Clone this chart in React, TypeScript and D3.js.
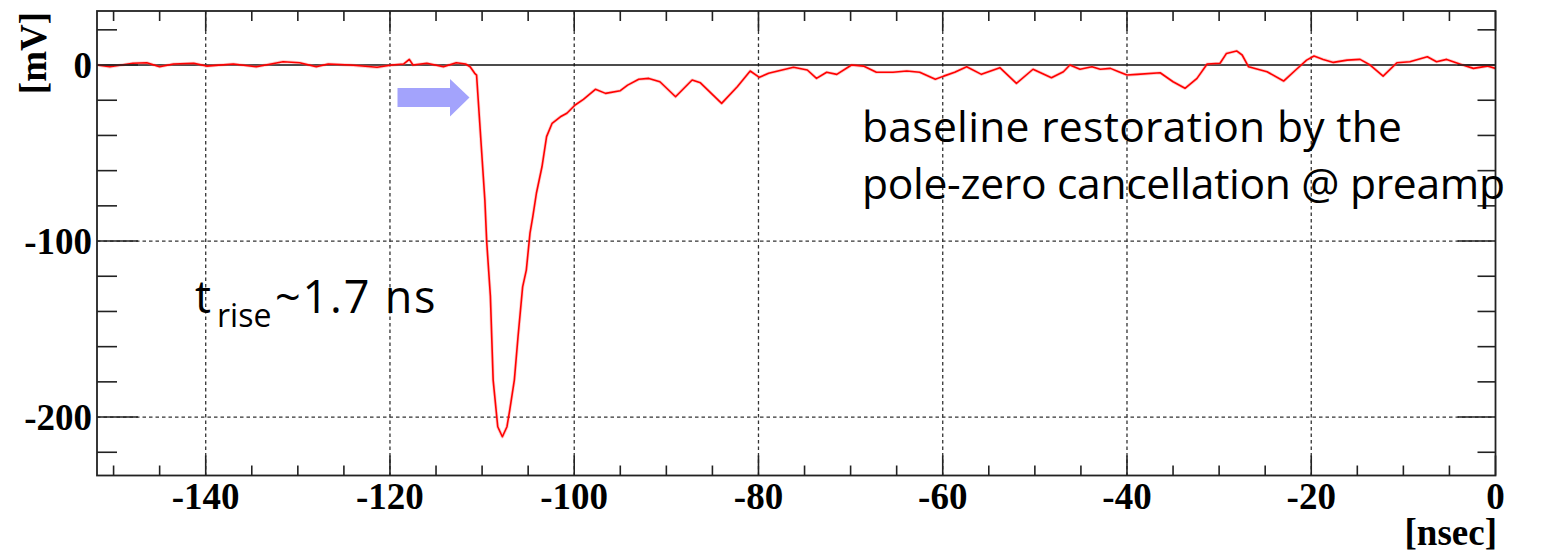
import React from "react";
import * as d3 from "d3";

// Preamp output waveform: time [ns] vs amplitude [mV]
const timeNs = [
  -151.8, -150.4, -147.9, -146.4, -145.0, -143.5, -141.3, -139.9, -137.0, -134.5,
  -131.6, -129.8, -128.0, -126.7, -124.3, -121.4, -119.8, -118.5, -117.9, -117.5,
  -116.0, -114.2, -112.8, -111.8, -111.3, -110.8, -110.6, -109.7, -109.5, -109.1,
  -108.8, -108.3, -107.8, -107.3, -107.0, -106.5, -106.1, -105.6, -105.2, -104.8,
  -104.5, -104.1, -103.5, -103.0, -102.4, -101.5, -100.8, -99.9, -99.0, -97.7,
  -96.6, -95.0, -94.2, -93.0, -91.9, -90.7, -89.0, -87.2, -86.3, -84.0,
  -82.3, -80.9, -79.9, -78.9, -76.2, -74.7, -73.7, -72.6, -71.5, -69.9,
  -68.6, -67.2, -65.4, -63.9, -62.5, -60.8, -59.9, -58.7, -57.4, -55.8,
  -53.8, -52.0, -50.2, -48.2, -46.9, -46.2, -45.1, -43.8, -42.9, -41.8,
  -40.9, -40.0, -38.9, -36.4, -35.0, -33.7, -32.4, -31.3, -29.9, -29.2,
  -28.1, -27.5, -26.8, -24.8, -23.0, -21.6, -20.5, -19.7, -18.7, -17.6,
  -16.1, -14.7, -13.6, -12.2, -10.7, -9.3, -7.4, -6.4, -5.3, -3.8,
  -2.4, -0.9, 0.0,
];

const signalMv = [
  0.0, -1.0, 1.0, 1.3, -1.0, 0.6, 1.0, -0.6, 0.6, -1.0,
  1.9, 1.3, -1.0, 0.6, 0.0, -1.3, 0.0, 0.6, 3.2, 0.0,
  1.0, -1.0, 1.3, 0.6, -1.0, -4.7, -5.7, -76.7, -100.4, -131.3,
  -179.0, -205.5, -211.2, -205.5, -196.0, -179.0, -154.4, -126.0, -116.5, -95.5,
  -86.2, -72.7, -57.8, -40.7, -33.1, -29.4, -27.4, -22.7, -19.5, -13.8,
  -16.1, -14.6, -11.4, -8.1, -7.6, -9.5, -18.0, -8.5, -10.1, -21.8,
  -12.3, -3.4, -7.0, -4.7, -1.3, -2.8, -7.6, -4.1, -5.3, 0.0,
  -0.6, -4.1, -4.1, -3.4, -4.1, -8.1, -6.3, -4.1, -1.0, -5.3,
  -1.5, -10.4, -2.4, -7.2, -3.8, 0.0, -2.4, -1.0, -2.4, -1.9,
  -3.8, -5.7, -5.3, -4.4, -9.5, -13.2, -7.6, 0.6, 1.0, 6.6,
  8.0, 5.7, -1.0, -3.8, -9.1, -2.4, 2.8, 5.1, 3.2, 1.5,
  2.8, 3.2, 0.0, -6.3, 1.3, 1.9, 4.7, 1.9, 3.2, 0.4,
  -1.9, -0.6, -1.9,
];

const xMajorTicks = [-140, -120, -100, -80, -60, -40, -20, 0];
const xTickLabels = ["-140", "-120", "-100", "-80", "-60", "-40", "-20", "0"];
const yMajorTicks = [0, -100, -200];
const yTickLabels = ["0", "-100", "-200"];

const xDomain: [number, number] = [-151.8, 0];
const yDomain: [number, number] = [-233.2, 30.7];

const annotationLines = ["baseline restoration by the", "pole-zero cancellation @ preamp"];
const annotationWidths = [540, 643];

const W = 1545;
const H = 555;
const frame = { left: 97, right: 1495.5, top: 11, bottom: 475.5 };

export default function App() {
  const x = d3.scaleLinear().domain(xDomain).range([frame.left, frame.right]);
  const y = d3.scaleLinear().domain(yDomain).range([frame.bottom, frame.top]);

  const xMinor = d3.range(-150, 0.001, 5).filter((v) => v % 20 !== 0);
  const yMinor = d3.range(20, -230, -20).filter((v) => v % 100 !== 0);

  const line = d3
    .line<number>()
    .x((_, i) => x(timeNs[i]))
    .y((d) => y(d))
    .curve(d3.curveLinear);

  const axisColor = "#222";
  const gridColor = "#333";
  const tickFont = { fontFamily: "'Liberation Serif', 'Times New Roman', serif", fontWeight: 700, fontSize: 37 };

  // Block arrow pointing at the pulse onset
  const arrow = "M397.5,88 L450,88 L450,79 L469.5,97.5 L450,116.5 L450,107 L397.5,107 Z";

  return (
    <svg width={W} height={H} style={{ position: "absolute", left: 0, top: 0, background: "#fff" }}>
      {/* dashed grid */}
      {xMajorTicks
        .filter((v) => v > xDomain[0] && v < 0)
        .map((v) => (
          <line key={`gx${v}`} x1={x(v)} x2={x(v)} y1={frame.top} y2={frame.bottom}
            stroke={gridColor} strokeWidth={1.3} strokeDasharray="3.5,3" />
        ))}
      {yMajorTicks
        .filter((v) => v !== 0)
        .map((v) => (
          <line key={`gy${v}`} x1={frame.left} x2={frame.right} y1={y(v)} y2={y(v)}
            stroke={gridColor} strokeWidth={1.3} strokeDasharray="3.5,3" />
        ))}

      {/* zero reference */}
      <line x1={frame.left} x2={frame.right} y1={y(0)} y2={y(0)} stroke="#111" strokeWidth={1.5} />

      {/* waveform */}
      <path d={line(signalMv) ?? ""} fill="none" stroke="#ff6b6b" strokeWidth={3.2} strokeOpacity={0.35} strokeLinejoin="round" />
      <path d={line(signalMv) ?? ""} fill="none" stroke="#ff0000" strokeWidth={1.6} strokeLinejoin="round" />

      {/* frame */}
      <rect x={frame.left} y={frame.top} width={frame.right - frame.left} height={frame.bottom - frame.top}
        fill="none" stroke={axisColor} strokeWidth={1.8} />

      {/* x ticks, bottom and top */}
      {xMajorTicks.map((v) => (
        <g key={`xt${v}`}>
          <line x1={x(v)} x2={x(v)} y1={frame.bottom} y2={frame.bottom - 20} stroke={axisColor} strokeWidth={1.6} />
          <line x1={x(v)} x2={x(v)} y1={frame.top} y2={frame.top + 20} stroke={axisColor} strokeWidth={1.6} />
        </g>
      ))}
      {xMinor.map((v) => (
        <g key={`xm${v}`}>
          <line x1={x(v)} x2={x(v)} y1={frame.bottom} y2={frame.bottom - 10} stroke={axisColor} strokeWidth={1.6} />
          <line x1={x(v)} x2={x(v)} y1={frame.top} y2={frame.top + 10} stroke={axisColor} strokeWidth={1.6} />
        </g>
      ))}

      {/* y ticks, left and right */}
      {yMajorTicks.map((v) => (
        <g key={`yt${v}`}>
          <line x1={frame.left} x2={frame.left + 41} y1={y(v)} y2={y(v)} stroke={axisColor} strokeWidth={1.6} />
          <line x1={frame.right} x2={frame.right - 38} y1={y(v)} y2={y(v)} stroke={axisColor} strokeWidth={1.6} />
        </g>
      ))}
      {yMinor.map((v) => (
        <g key={`ym${v}`}>
          <line x1={frame.left} x2={frame.left + 20} y1={y(v)} y2={y(v)} stroke={axisColor} strokeWidth={1.6} />
          <line x1={frame.right} x2={frame.right - 18} y1={y(v)} y2={y(v)} stroke={axisColor} strokeWidth={1.6} />
        </g>
      ))}

      {/* tick labels */}
      {xMajorTicks.map((v, i) => (
        <text key={`xl${v}`} x={x(v)} y={509} textAnchor="middle" fill="#000" style={tickFont}>
          {xTickLabels[i]}
        </text>
      ))}
      {yMajorTicks.map((v, i) => (
        <text key={`yl${v}`} x={92} y={y(v) + 12.5} textAnchor="end" fill="#000" style={tickFont}>
          {yTickLabels[i]}
        </text>
      ))}

      {/* axis titles */}
      <text transform="translate(46,12) rotate(-90)" textAnchor="end" fill="#000" style={tickFont}>[mV]</text>
      <text x={1497} y={545} textAnchor="end" fill="#000" style={tickFont}>[nsec]</text>

      {/* annotations */}
      <path d={arrow} fill="#a3a3fc" />
      <text fill="#000" style={{ fontFamily: "'Open Sans', sans-serif", fontSize: 45 }}>
        <tspan x={195} y={313}>t</tspan>
        <tspan x={217} y={327} style={{ fontSize: 32 }}>rise</tspan>
        <tspan x={275} y={313} letterSpacing={1.8}>~1.7 ns</tspan>
      </text>
      {annotationLines.map((s, i) => (
        <text key={i} x={862} y={142 + i * 57} textLength={annotationWidths[i]} lengthAdjust="spacing"
          fill="#000" style={{ fontFamily: "'Open Sans', sans-serif", fontSize: 42.6 }}>
          {s}
        </text>
      ))}
    </svg>
  );
}
